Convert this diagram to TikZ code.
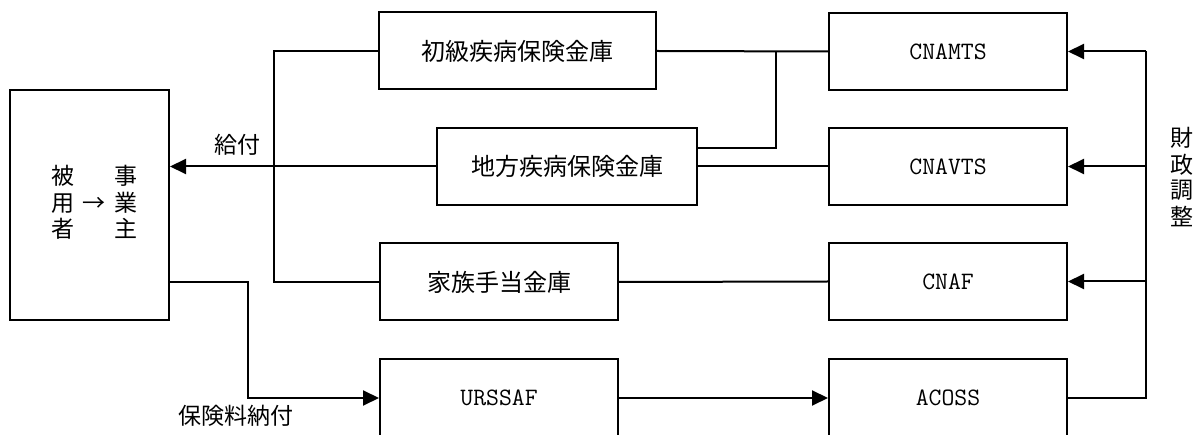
\documentclass[tikz,border=0pt]{standalone}
\usepackage{fontspec}
\newfontfamily\jpfam{Noto Sans CJK JP}
\usepackage{tikz}
\usetikzlibrary{arrows.meta,calc}
\tikzset{fund box/.style={draw, line width=2pt, minimum width=238pt, minimum height=77pt, inner sep=0pt, font=\jpfam\fontsize{24}{24}\selectfont}}
\tikzset{latin/.style={font=\ttfamily\fontsize{25}{25}\selectfont}}
\tikzset{label text/.style={inner sep=0pt, font=\jpfam\fontsize{23}{23.5}\selectfont}}
\tikzset{link/.style={line width=2pt}, flow arrow/.style={link, -{Triangle[length=16pt,width=15pt]}}}

\begin{document}
\begin{tikzpicture}[x=1pt,y=-1pt]
	\useasboundingbox (0,0) rectangle (1200,435);
	% insured persons and employers
	\node[fund box, minimum width=159pt, minimum height=230pt] (payer) at (89.5,205) {};
	\node[label text] (payer text) at (94.5,205) {\begin{tabular}{@{}c@{\hspace{9pt}}c@{\hspace{9pt}}c@{}}被&&事\\用&→&業\\者&&主\end{tabular}};
	% local funds
	\node[fund box, minimum width=277pt] (primary) at (517.5,51) {初級疾病保険金庫};
	\node[fund box, minimum width=260pt] (regional) at (567,166.5) {地方疾病保険金庫};
	\node[fund box] (family) at (499,282) {家族手当金庫};
	\node[fund box, latin, minimum height=78pt] (urssaf) at (499,398) {URSSAF};
	% national funds
	\node[fund box, latin] (cnamts) at (948,51.5) {CNAMTS};
	\node[fund box, latin] (cnavts) at (948,166.5) {CNAVTS};
	\node[fund box, latin] (cnaf) at (948,281.5) {CNAF};
	\node[fund box, latin, minimum height=78pt] (acoss) at (948,398) {ACOSS};
	\coordinate (bus) at (274,0);
	\coordinate (drop) at (248,0);
	\coordinate (junc) at (776,0);
	\coordinate (adj) at (1146,0);
	% benefits
	\draw[link] (primary.west) -- (primary.west -| bus) -- (family.west -| bus) -- (family.west);
	\draw[flow arrow] (regional.west) -- (regional.west -| payer.east);
	\node[label text] (benefit) at (237,145) {給付};
	\draw[link] (primary.east) -- (cnamts.west);
	\draw[link] ([yshift=18.5pt]regional.east) -| (junc |- primary.east);
	\draw[link] (regional.east) -- (cnavts.west);
	\draw[link] (family.east) -- (cnaf.west);
	% contributions
	\draw[flow arrow] (payer.east |- family.west) -- (drop |- family.west) -- (drop |- urssaf.west) -- (urssaf.west);
	\node[label text] (premium) at (236,416) {保険料納付};
	\draw[flow arrow] (urssaf.east) -- (acoss.west);
	% financial adjustment
	\draw[link] (acoss.east) -- (adj |- acoss.east) -- (adj |- cnamts.east);
	\foreach \nat in {cnamts,cnavts,cnaf}
		\draw[flow arrow] (adj |- \nat.east) -- (\nat.east);
	\node[label text] (adjust) at (1182,180) {\begin{tabular}{@{}c@{}}財\\政\\調\\整\end{tabular}};
\end{tikzpicture}
\end{document}
